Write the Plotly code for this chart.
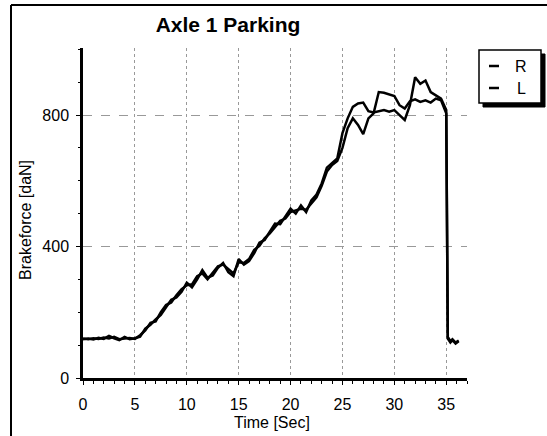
import plotly.graph_objects as go

# ---- data ----
time_s = [0, 0.5, 1, 1.5, 2, 2.5, 3, 3.5, 4, 4.5, 5, 5.5, 6, 6.5, 7, 7.5, 8, 8.5, 9, 9.5,
          10, 10.5, 11, 11.5, 12, 12.5, 13, 13.5, 14, 14.5, 15, 15.5, 16, 16.5, 17, 17.5,
          18, 18.5, 19, 19.5, 20, 20.5, 21, 21.5, 22, 22.5, 23, 23.5, 24, 24.5, 25, 25.5,
          26, 26.5, 27, 27.5, 28, 28.5, 29, 29.5, 30, 30.5, 31, 31.5, 32, 32.5, 33, 33.5,
          34, 34.5, 35, 35.15, 35.4, 35.6, 35.9, 36.2]

force_R = [118, 120, 117, 122, 119, 128, 121, 115, 125, 118, 121, 126, 150, 162, 178, 192,
           215, 238, 245, 262, 290, 276, 300, 328, 305, 312, 335, 350, 322, 310, 362, 345,
           356, 380, 412, 420, 445, 470, 468, 490, 515, 500, 525, 505, 540, 558, 592, 640,
           655, 668, 745, 790, 825, 835, 838, 812, 808, 812, 815, 810, 815, 800, 785, 830,
           915, 895, 905, 870, 860, 850, 815, 125, 112, 118, 108, 114]

force_L = [120, 118, 121, 119, 123, 120, 125, 118, 120, 122, 119, 130, 145, 168, 172, 200,
           222, 230, 252, 270, 282, 285, 310, 318, 300, 320, 340, 345, 330, 318, 352, 350,
           362, 390, 402, 425, 440, 460, 478, 485, 505, 510, 515, 512, 530, 550, 585, 628,
           648, 660, 700, 760, 790, 770, 742, 790, 805, 870, 868, 862, 858, 830, 820, 842,
           848, 840, 845, 838, 850, 845, 805, 120, 108, 115, 105, 112]

series_names = ["R", "L"]
x_ticks = [0, 5, 10, 15, 20, 25, 30, 35]
y_ticks = [0, 400, 800]

FONT = "Arial, Liberation Sans, sans-serif"

fig = go.Figure()
for name, ys in zip(series_names, [force_R, force_L]):
    fig.add_trace(go.Scatter(x=time_s, y=ys, mode="lines", name=name,
                             line=dict(color="black", width=2.5), showlegend=False))

# plot area geometry
L, R, T, B = 83, 80, 48, 58
W, H = 547, 436
pw, ph = W - L - R, H - T - B

def px(x):
    return (x - L) / pw

def py(y):
    return (H - B - y) / ph

fig.update_layout(
    width=W, height=H,
    margin=dict(l=L, r=R, t=T, b=B),
    paper_bgcolor="white", plot_bgcolor="white",
    font=dict(family=FONT, size=16, color="black"),
    title=dict(text="<b>Axle 1 Parking</b>", x=228 / W, xanchor="center",
               y=1 - 25 / H, yanchor="middle", font=dict(size=21, family=FONT)),
    xaxis=dict(range=[0, 37], tickvals=x_ticks, ticktext=[str(v) for v in x_ticks],
               showline=True, linecolor="black", linewidth=2.5,
               ticks="outside", ticklen=4, tickwidth=1, tickcolor="black",
               minor=dict(dtick=1, ticks="outside", ticklen=3, tickcolor="black", showgrid=False),
               showgrid=True, gridcolor="#999", gridwidth=1, griddash="dot",
               zeroline=False, tickfont=dict(size=16), ticklabelstandoff=6),
    yaxis=dict(range=[0, 1004], tickvals=y_ticks, ticktext=[str(v) for v in y_ticks],
               showline=True, linecolor="black", linewidth=2.5,
               ticks="outside", ticklen=4, tickwidth=1, tickcolor="black",
               minor=dict(dtick=100, ticks="outside", ticklen=2, tickcolor="black", showgrid=False),
               showgrid=True, gridcolor="#999", gridwidth=1, griddash="dash",
               zeroline=False, tickfont=dict(size=16), ticklabelstandoff=4),
    showlegend=False,
)

# axis titles
fig.add_annotation(text="Time [Sec]", xref="paper", yref="paper", x=px(272), y=py(423),
                   xanchor="center", yanchor="middle",
                   showarrow=False, font=dict(size=16, family=FONT))
fig.add_annotation(text="Brakeforce [daN]", xref="paper", yref="paper", x=px(25), y=py(220),
                   xanchor="center", yanchor="middle",
                   textangle=-90, showarrow=False, font=dict(size=16, family=FONT))

# outer frame (top and left edges)
fig.add_shape(type="line", xref="paper", yref="paper", x0=px(11), y0=py(5), x1=px(W), y1=py(5),
              line=dict(color="black", width=2))
fig.add_shape(type="line", xref="paper", yref="paper", x0=px(11), y0=py(5), x1=px(11), y1=py(H),
              line=dict(color="black", width=2))

# legend box with shadow
fig.add_shape(type="rect", xref="paper", yref="paper", x0=px(483), y0=py(54), x1=px(545), y1=py(107),
              fillcolor="black", line=dict(color="black", width=1), layer="above")
fig.add_shape(type="rect", xref="paper", yref="paper", x0=px(479), y0=py(50), x1=px(541), y1=py(103),
              fillcolor="white", line=dict(color="black", width=1.5), layer="above")
for i, name in enumerate(series_names):
    yy = 66 + i * 22
    fig.add_shape(type="line", xref="paper", yref="paper", x0=px(489), y0=py(yy), x1=px(499), y1=py(yy),
                  line=dict(color="black", width=2.5))
    fig.add_annotation(text=name, xref="paper", yref="paper", x=px(521), y=py(yy),
                       xanchor="center", yanchor="middle",
                       showarrow=False, font=dict(size=16, family=FONT))

fig.write_html("out.html", config={"displayModeBar": False},
               post_script="document.body.style.margin='0';")
